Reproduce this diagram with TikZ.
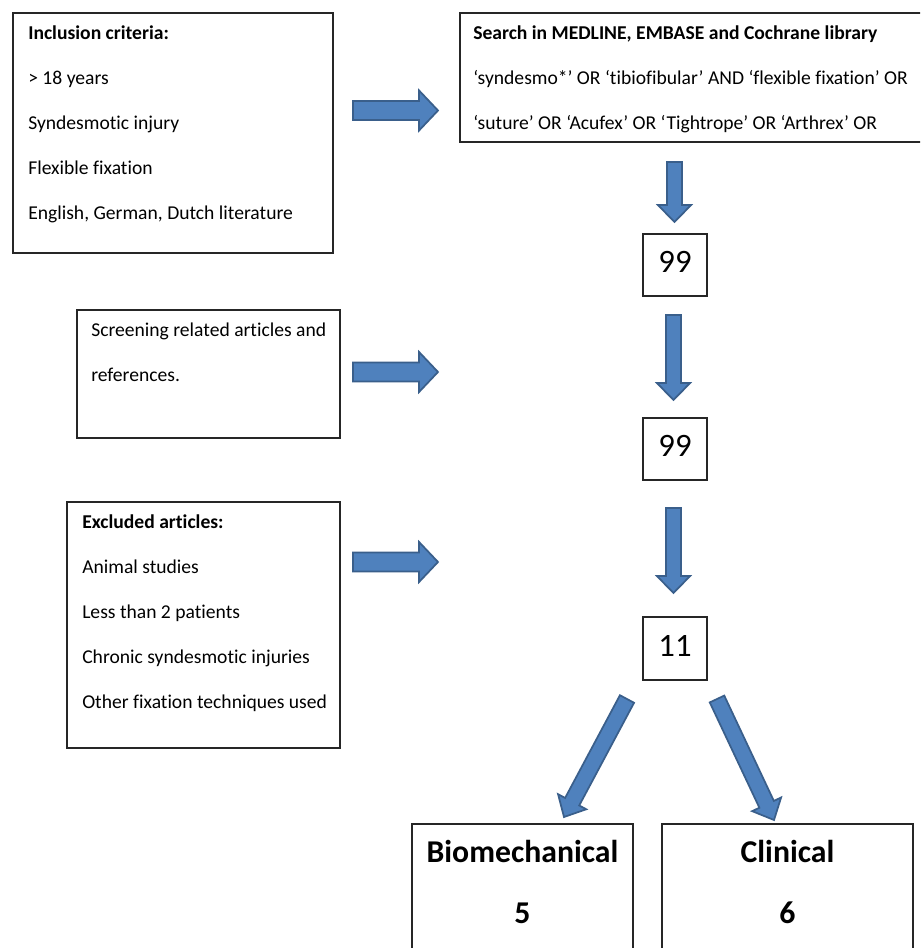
\documentclass[tikz,border=0pt]{standalone}
\usepackage{fontspec}
\setmainfont{Carlito}[RawFeature=-liga]
\usetikzlibrary{calc,fit}
\definecolor{arrowfill}{HTML}{4F81BD}
\definecolor{arrowline}{HTML}{3A5F8B}
\tikzset{
  box/.style={draw=black!85, line width=0.9pt, inner sep=0pt, fill=none},
  txt/.style={anchor=base west, inner sep=0pt, font=\fontsize{14.7}{17}\selectfont},
  btxt/.style={txt, font=\fontsize{14.7}{17}\selectfont\bfseries},
  num/.style={inner sep=0pt, yshift=2.2pt, font=\fontsize{24.5}{29}\selectfont},
  bignum/.style={anchor=base, inner sep=0pt, font=\fontsize{23.8}{28}\selectfont\bfseries},
  blockarrow/.style={fill=arrowfill, draw=arrowline, line width=1.3pt, line join=miter}
}
% #1 tail, #2 tip, #3 half shaft width, #4 half head width, #5 head length
\newcommand\blockarr[5]{%
  \coordinate (ba-h) at ($(#2)!#5!(#1)$);
  \draw[blockarrow]
    ($(#1)!#3!90:(#2)$) -- ($(ba-h)!#3!-90:(#1)$) -- ($(ba-h)!#4!-90:(#1)$) -- (#2)
    -- ($(ba-h)!#4!90:(#1)$) -- ($(ba-h)!#3!90:(#1)$) -- ($(#1)!#3!-90:(#2)$) -- cycle;
}
\begin{document}
\begin{tikzpicture}[x=0.75pt,y=-0.75pt]
\clip (0,0) rectangle (920,948);
\fill[white] (0,0) rectangle (920,948);
% boxes
\node[box, fit={(13,13) (333,253)}] (incl) {};
\node[box, fit={(460,13) (926,142)}] (search) {};
\node[box, fit={(643,234) (707,296)}] (n1) {};
\node[box, fit={(77,310) (340,438)}] (screen) {};
\node[box, fit={(643,418) (707,480)}] (n2) {};
\node[box, fit={(67,502) (340,748)}] (excl) {};
\node[box, fit={(643,617) (707,680)}] (n3) {};
\node[box, fit={(412,824) (633,955)}] (bio) {};
\node[box, fit={(662,824) (913,955)}] (clin) {};
% texts
\node[btxt] (i0) at (28,40) {Inclusion criteria:};
\node[txt] (i1) at (28,85) {> 18 years};
\node[txt] (i2) at (28,130) {Syndesmotic injury};
\node[txt] (i3) at (28,175) {Flexible fixation};
\node[txt] (i4) at (28,220) {English, German, Dutch literature};
\node[btxt] (s0) at (473,40) {Search in MEDLINE, EMBASE and Cochrane library};
\node[txt] (s1) at (473,85) {‘syndesmo*’ OR ‘tibiofibular’ AND ‘flexible fixation’ OR};
\node[txt] (s2) at (473,130) {‘suture’ OR ‘Acufex’ OR ‘Tightrope’ OR ‘Arthrex’ OR};
\node[txt] (r0) at (91,336) {Screening related articles and};
\node[txt] (r1) at (91,381) {references.};
\node[btxt] (e0) at (82,528) {Excluded articles:};
\node[txt] (e1) at (82,573) {Animal studies};
\node[txt] (e2) at (82,618) {Less than 2 patients};
\node[txt] (e3) at (82,663) {Chronic syndesmotic injuries};
\node[txt] (e4) at (82,708) {Other fixation techniques used};
\node[num] (t1) at (n1.center) {99};
\node[num] (t2) at (n2.center) {99};
\node[num] (t3) at (n3.center) {11};
\node[bignum] (b0) at (522.5,862) {Biomechanical};
\node[bignum] (b1) at (522.5,923) {5};
\node[bignum] (c0) at (787.5,862) {Clinical};
\node[bignum] (c1) at (787.5,923) {6};
% arrow anchor points
\coordinate (h1a) at (353,110.5); \coordinate (h1b) at (438,110.5);
\coordinate (h2a) at (353,372);   \coordinate (h2b) at (438,372);
\coordinate (h3a) at (353,562);   \coordinate (h3b) at (438,562);
\coordinate (d1a) at (674.5,162); \coordinate (d1b) at (674.5,222);
\coordinate (d2a) at (673.5,315); \coordinate (d2b) at (673.5,400);
\coordinate (d3a) at (673.5,508); \coordinate (d3b) at (673.5,593);
\coordinate (l1a) at (627,699);   \coordinate (l1b) at (564,817);
\coordinate (r1a) at (717,699);   \coordinate (r1b) at (774,820);
\blockarr{h1a}{h1b}{7.1pt}{15pt}{14.2pt}
\blockarr{h2a}{h2b}{7.1pt}{15pt}{14.2pt}
\blockarr{h3a}{h3b}{7.1pt}{15pt}{14.2pt}
\blockarr{d1a}{d1b}{5.6pt}{12.4pt}{12.7pt}
\blockarr{d2a}{d2b}{5.6pt}{12.4pt}{12.7pt}
\blockarr{d3a}{d3b}{5.6pt}{12.4pt}{12.7pt}
\blockarr{l1a}{l1b}{6pt}{12pt}{13pt}
\blockarr{r1a}{r1b}{6pt}{12pt}{13pt}
\end{tikzpicture}
\end{document}
